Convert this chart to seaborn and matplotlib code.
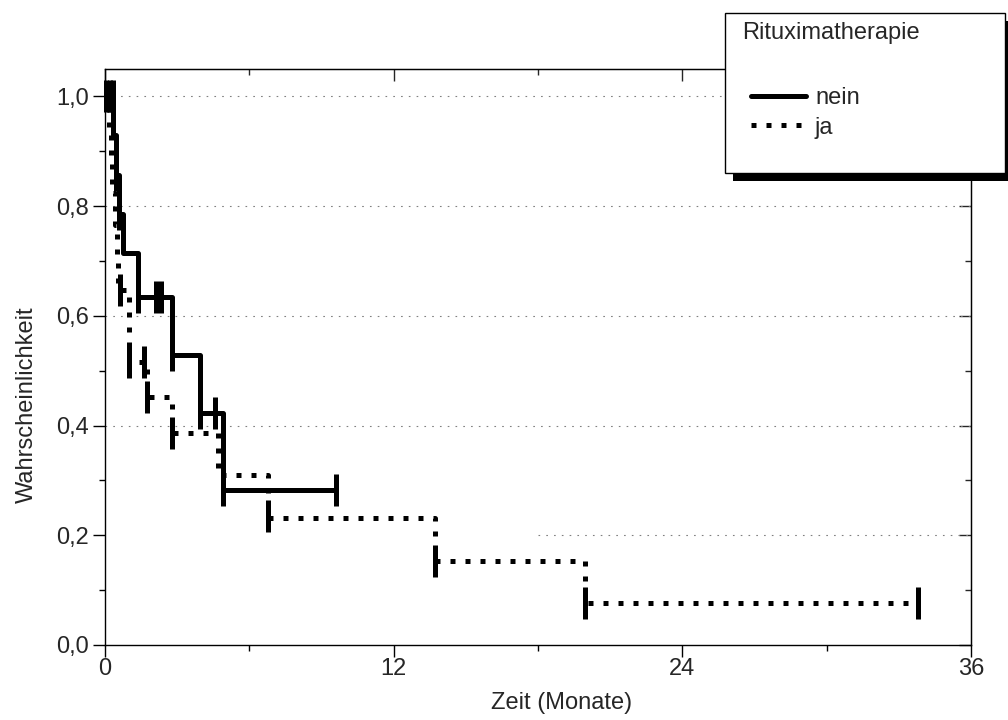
import numpy as np
import pandas as pd
import matplotlib
matplotlib.use("Agg")
import matplotlib.pyplot as plt
from matplotlib.lines import Line2D
from matplotlib.patches import Rectangle
import seaborn as sns

# Kaplan-Meier steps (Zeit in Monaten)
nein_t = [0.0, 0.35, 0.45, 0.6, 0.75, 1.37, 2.8, 3.95, 4.9, 9.6]
nein_s = [1.0, 0.929, 0.857, 0.786, 0.714, 0.635, 0.529, 0.423, 0.282, 0.282]
ja_t = [0.0, 0.15, 0.25, 0.3, 0.4, 0.5, 0.55, 1.0, 1.75, 2.8, 4.7, 6.78, 13.72, 19.97, 33.8]
ja_s = [1.0, 0.941, 0.882, 0.824, 0.765, 0.706, 0.647, 0.516, 0.452, 0.387, 0.31, 0.232, 0.154, 0.077, 0.077]

# censored cases (tick marks)
nein_cens_t = [0.05, 0.2, 0.35, 0.45, 0.6, 1.37, 2.12, 2.33, 2.8, 3.95, 4.57, 4.9, 9.6]
nein_cens_s = [1.0, 1.0, 1.0, 0.857, 0.786, 0.635, 0.635, 0.635, 0.529, 0.423, 0.423, 0.282, 0.282]
ja_cens_t = [0.62, 1.0, 1.62, 1.75, 2.8, 6.78, 13.72, 19.97, 33.8]
ja_cens_s = [0.647, 0.516, 0.516, 0.452, 0.387, 0.235, 0.154, 0.077, 0.077]

groups = ["nein", "ja"]
yticks = [0.0, 0.2, 0.4, 0.6, 0.8, 1.0]
ytick_labels = ["0,0", "0,2", "0,4", "0,6", "0,8", "1,0"]
xticks = [0, 12, 24, 36]

sns.set_style("ticks")
plt.rcParams["font.family"] = ["Liberation Sans", "DejaVu Sans"]
plt.rcParams["font.size"] = 17

curves = pd.concat([
    pd.DataFrame({"t": nein_t, "s": nein_s, "gruppe": "nein"}),
    pd.DataFrame({"t": ja_t, "s": ja_s, "gruppe": "ja"}),
])
cens = pd.concat([
    pd.DataFrame({"t": nein_cens_t, "s": nein_cens_s, "gruppe": "nein"}),
    pd.DataFrame({"t": ja_cens_t, "s": ja_cens_s, "gruppe": "ja"}),
])

fig = plt.figure(figsize=(10.08, 7.2), dpi=100)
ax = fig.add_axes([105 / 1008, 75 / 720, 866 / 1008, 576 / 720])

# dotted grid
for yv in [0.4, 0.6, 0.8, 1.0]:
    ax.axhline(yv, color="#808080", lw=0.8, dashes=(1.5, 5.5), zorder=1)
ax.axhline(0.2, xmin=0.5, color="#808080", lw=0.8, dashes=(1.5, 5.5), zorder=1)

sns.lineplot(data=curves, x="t", y="s", hue="gruppe", style="gruppe",
             palette={"nein": "black", "ja": "black"},
             dashes={"nein": "", "ja": (1, 2)},
             drawstyle="steps-post", estimator=None, sort=False,
             linewidth=3.6, legend=False, ax=ax, zorder=3)
sns.scatterplot(data=cens, x="t", y="s", color="black", marker="|",
                s=560, linewidth=3.6, legend=False, ax=ax, zorder=4, clip_on=False)

ax.set_xlim(0, 36)
ax.set_ylim(0, 1.05)
ax.set_xticks(xticks)
ax.set_xticks([6, 18, 30], minor=True)
ax.set_yticks(yticks)
ax.set_yticklabels(ytick_labels)
ax.set_yticks([0.1, 0.3, 0.5, 0.7, 0.9], minor=True)
ax.tick_params(which="major", length=8.6, width=1.0, direction="out", color="black")
ax.tick_params(which="minor", length=4.3, width=1.0, direction="out", color="black")
ax.tick_params(axis="x", pad=1)
ax.tick_params(axis="y", pad=3)
for sp in ax.spines.values():
    sp.set_linewidth(1.0)
    sp.set_color("black")

# inward ticks on top and right
top = ax.secondary_xaxis("top")
top.set_xticks(xticks)
top.set_xticks([6, 18, 30], minor=True)
top.tick_params(which="major", direction="in", length=8.6, width=1.0, labeltop=False)
top.tick_params(which="minor", direction="in", length=4.3, width=1.0)
right = ax.secondary_yaxis("right")
right.set_yticks(yticks)
right.set_yticks([0.1, 0.3, 0.5, 0.7, 0.9], minor=True)
right.tick_params(which="major", direction="in", length=8.6, width=1.0, labelright=False)
right.tick_params(which="minor", direction="in", length=4.3, width=1.0)

ax.set_xlabel("Zeit (Monate)")
ax.set_ylabel("Wahrscheinlichkeit")
ax.xaxis.set_label_coords(0.527, -0.082)
ax.yaxis.set_label_coords(-0.077, 0.417)

# legend box with black shadow
fig.add_artist(Rectangle((733 / 1008, 1 - 181 / 720), 280 / 1008, 160 / 720,
                         transform=fig.transFigure, facecolor="black",
                         edgecolor="none", zorder=3))
fig.add_artist(Rectangle((725 / 1008, 1 - 173 / 720), 280 / 1008, 160 / 720,
                         transform=fig.transFigure, facecolor="white",
                         edgecolor="black", linewidth=1.0, zorder=4))
fig.text(742 / 1008, 1 - 33 / 720, "Rituximatherapie", va="center", ha="left", zorder=6)
handles = [Line2D([], [], color="black", lw=3.6),
           Line2D([], [], color="black", lw=3.6, dashes=(1, 2))]
fig.legend(handles, groups, loc="upper left", bbox_to_anchor=(751 / 1008, 1 - 87 / 720),
           frameon=False, borderpad=0, borderaxespad=0, handlelength=2.33,
           handletextpad=0.38, labelspacing=0.32)

fig.savefig("out.png", dpi=100)
